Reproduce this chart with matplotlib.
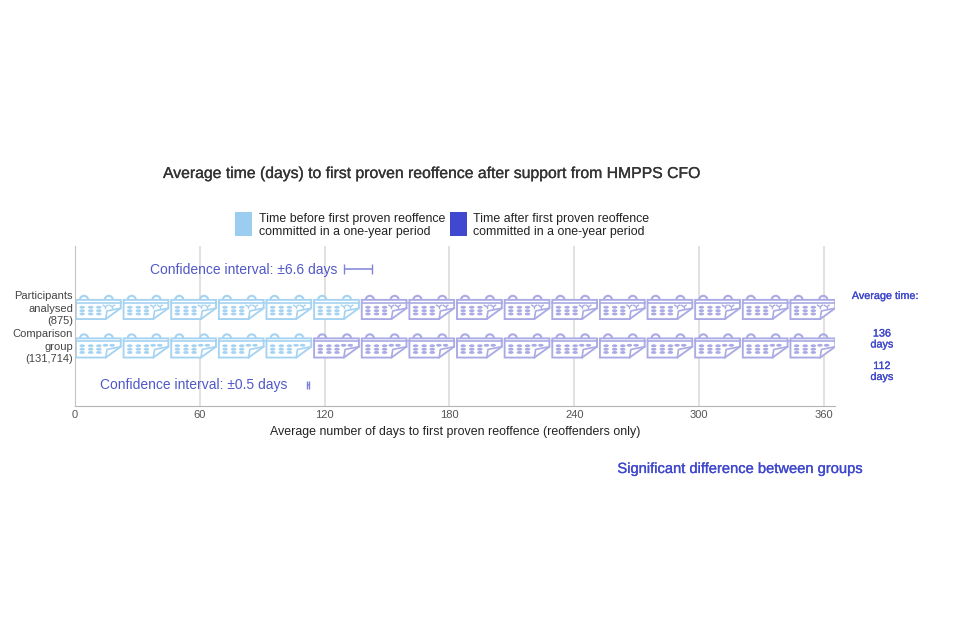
import numpy as np
import matplotlib
matplotlib.use("Agg")
import matplotlib.pyplot as plt
import matplotlib.patheffects as pe
from matplotlib.patches import Polygon, Rectangle, Arc, Ellipse

plt.rcParams['font.family'] = ['Liberation Sans', 'DejaVu Sans']

groups = ["Participants\nanalysed\n(875)", "Comparison\ngroup\n(131,714)"]
average_days = [136, 112]
confidence = [6.6, 0.5]
ci_labels = ["Confidence interval: ±6.6 days", "Confidence interval: ±0.5 days"]
avg_labels = ["136\ndays", "112\ndays"]
xticks = [0, 60, 120, 180, 240, 300, 360]
legend_labels = ["Time before first proven reoffence\ncommitted in a one-year period",
                 "Time after first proven reoffence\ncommitted in a one-year period"]
days_per_icon = 22.9
n_icons = 16

LIGHT = "#a5d3f1"
DARK = "#aaaae4"
LEGEND_LIGHT = "#9bcdf0"
LEGEND_DARK = "#3f48cf"
BLUE = "#3f48cc"
W, H = 960, 640


def fx(px):
    return px / W


def fy(py):
    return 1 - py / H


def heavy(color, width=0.2):
    return [pe.withStroke(linewidth=width, foreground=color)]


def draw_icon(ax, x0, row, color, top_dots):
    # one calendar, u/v are fractions of the icon box
    def pt(u, v):
        return x0 + u * days_per_icon, row + (v - 0.5) * 0.6

    for u in (0.19, 0.71):
        ax.add_patch(Arc(pt(u, 0.17), 0.17 * days_per_icon, 0.21, theta1=180, theta2=360,
                         edgecolor=color, linewidth=1.5))
    body = [(0.02, 0.17), (0.96, 0.17), (0.96, 0.53), (0.645, 1.0), (0.02, 1.0)]
    ax.add_patch(Polygon([pt(*p) for p in body], closed=True, facecolor="white",
                         edgecolor=color, linewidth=1.35))
    ax.plot(*zip(pt(0.02, 0.30), pt(0.96, 0.30)), color=color, lw=1.2)
    ax.plot(*zip(pt(0.645, 1.0), pt(0.67, 0.65), pt(0.96, 0.53)), color=color, lw=1.2)
    for v in (0.49, 0.64, 0.78):
        for u in (0.15, 0.33, 0.5):
            ax.add_patch(Ellipse(pt(u, v), 0.115 * days_per_icon, 0.075, facecolor=color, edgecolor="none"))
    for u in (0.64, 0.78):
        if top_dots:
            ax.add_patch(Ellipse(pt(u, 0.47), 0.115 * days_per_icon, 0.075, facecolor=color, edgecolor="none"))
        else:
            ax.plot(*zip(pt(u - 0.05, 0.40), pt(u, 0.47), pt(u + 0.05, 0.40)), color=color, lw=1.0)
            ax.plot(*zip(pt(u, 0.47), pt(u, 0.53)), color=color, lw=1.0)


fig = plt.figure(figsize=(9.6, 6.4), dpi=100)
ax = fig.add_axes([fx(75), fy(406), fx(835 - 75), (406 - 246) / H])
ax.set_xlim(0, (835 - 75) / 2.08)
ax.set_ylim(2.558, -1.597)

ax.set_xticks(xticks)
ax.grid(axis="x", color="#dcdcdc", lw=1.2)
ax.set_axisbelow(True)
ax.set_yticks([])
for s in ("top", "right"):
    ax.spines[s].set_visible(False)
ax.spines["left"].set_color("#c4c4c4")
ax.spines["bottom"].set_color("#b5b5b5")
ax.tick_params(axis="x", length=0, labelsize=8, labelcolor="#555555", pad=3)
ax.set_xlabel("Average number of days to first proven reoffence (reoffenders only)",
              fontsize=8.9, color="#222222", labelpad=4)

for row, avg in enumerate(average_days):
    n_light = round(avg / days_per_icon)
    for i in range(n_icons):
        draw_icon(ax, i * days_per_icon, row, LIGHT if i < n_light else DARK, row == 1)

ax.errorbar(average_days[0], -1, xerr=confidence[0], color="#7d84d8", lw=1.1, capsize=3.5)
ax.errorbar(average_days[1], 2, xerr=confidence[1], color="#7d84d8", lw=1.1, capsize=3)

fig.text(fx(163), fy(173.5), "Average time (days) to first proven reoffence after support from HMPPS CFO",
         fontsize=11.35, color="#333333", va="center", path_effects=heavy("#333333"))

for (left, right, col, label, tx) in [(235, 252, LEGEND_LIGHT, legend_labels[0], 259),
                                      (450, 467, LEGEND_DARK, legend_labels[1], 473)]:
    fig.add_artist(Rectangle((fx(left), fy(236)), fx(right - left), 24 / H,
                             transform=fig.transFigure, facecolor=col, edgecolor="none"))
    fig.text(fx(tx), fy(225.5), label, fontsize=8.9, color="#222222", va="center", linespacing=1.1)

for py, label in zip([308.5, 346.5], groups):
    fig.text(fx(73), fy(py), label, fontsize=8.05, color="#444444", ha="right", va="center", linespacing=1.28)

fig.text(fx(150), fy(270), ci_labels[0], fontsize=10, color="#5058c8", va="center")
fig.text(fx(100), fy(385), ci_labels[1], fontsize=10, color="#5058c8", va="center")

fig.text(fx(885.5), fy(296), "Average time:", fontsize=7.8, color=BLUE, ha="center", va="center",
         path_effects=heavy(BLUE))
for py, label in zip([339, 371.5], avg_labels):
    fig.text(fx(882), fy(py), label, fontsize=7.8, color=BLUE, ha="center", va="center", linespacing=1.12,
             path_effects=heavy(BLUE))

fig.text(fx(741), fy(469), "Significant difference between groups", fontsize=10.6, color=BLUE,
         ha="center", va="center", path_effects=heavy(BLUE))

fig.savefig("out.png", dpi=100)
